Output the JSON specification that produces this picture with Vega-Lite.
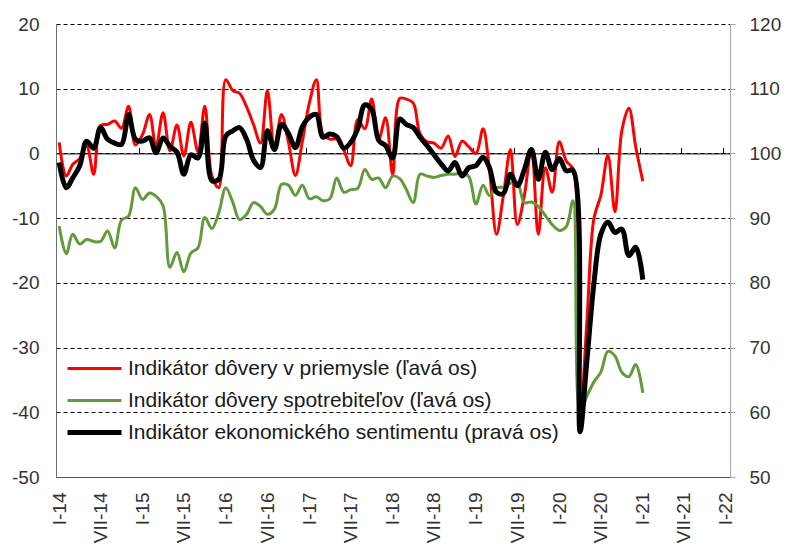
{
  "$schema": "https://vega.github.io/schema/vega-lite/v6.json",
  "width": 674,
  "height": 453,
  "autosize": {"type": "none"},
  "padding": {"left": 56, "top": 24, "right": 56, "bottom": 69},
  "background": "white",
  "config": {"view": {"stroke": null}, "font": "Liberation Sans", "axis": {"grid": false}},
  "data": {"values": [
    {"date": "2014-01-15", "ind": 1.7, "spot": -11.2, "esi": 98.6},
    {"date": "2014-02-15", "ind": -3.5, "spot": -15.5, "esi": 94.7},
    {"date": "2014-03-15", "ind": -1.7, "spot": -12.5, "esi": 96.2},
    {"date": "2014-04-15", "ind": -0.8, "spot": -14.0, "esi": 98.1},
    {"date": "2014-05-15", "ind": 1.2, "spot": -13.3, "esi": 101.9},
    {"date": "2014-06-15", "ind": -3.2, "spot": -13.6, "esi": 100.8},
    {"date": "2014-07-15", "ind": 4.3, "spot": -13.6, "esi": 104.0},
    {"date": "2014-08-15", "ind": 4.5, "spot": -12.0, "esi": 102.2},
    {"date": "2014-09-15", "ind": 5.0, "spot": -14.6, "esi": 101.6},
    {"date": "2014-10-15", "ind": 3.9, "spot": -10.3, "esi": 101.4},
    {"date": "2014-11-15", "ind": 7.3, "spot": -9.7, "esi": 106.0},
    {"date": "2014-12-15", "ind": 1.3, "spot": -5.3, "esi": 102.2},
    {"date": "2015-01-15", "ind": 2.9, "spot": -7.1, "esi": 101.9},
    {"date": "2015-02-15", "ind": 6.0, "spot": -6.1, "esi": 102.4},
    {"date": "2015-03-15", "ind": 1.0, "spot": -6.6, "esi": 100.1},
    {"date": "2015-04-15", "ind": 6.3, "spot": -8.1, "esi": 102.4},
    {"date": "2015-05-15", "ind": 0.4, "spot": -17.6, "esi": 101.1},
    {"date": "2015-06-15", "ind": 4.4, "spot": -15.3, "esi": 100.2},
    {"date": "2015-07-15", "ind": -0.4, "spot": -18.3, "esi": 96.8},
    {"date": "2015-08-15", "ind": 4.8, "spot": -15.4, "esi": 99.8},
    {"date": "2015-09-15", "ind": 0.3, "spot": -14.6, "esi": 99.3},
    {"date": "2015-10-15", "ind": 7.3, "spot": -9.9, "esi": 104.7},
    {"date": "2015-11-15", "ind": -3.5, "spot": -11.6, "esi": 95.8},
    {"date": "2015-12-15", "ind": -5.3, "spot": -9.2, "esi": 96.0},
    {"date": "2016-01-15", "ind": 11.4, "spot": -5.3, "esi": 102.7},
    {"date": "2016-02-15", "ind": 9.7, "spot": -7.6, "esi": 103.5},
    {"date": "2016-03-15", "ind": 9.3, "spot": -10.2, "esi": 104.0},
    {"date": "2016-04-15", "ind": 7.2, "spot": -9.4, "esi": 102.2},
    {"date": "2016-05-15", "ind": 4.5, "spot": -7.6, "esi": 99.0},
    {"date": "2016-06-15", "ind": 1.6, "spot": -8.2, "esi": 97.8},
    {"date": "2016-07-15", "ind": 9.7, "spot": -9.4, "esi": 103.5},
    {"date": "2016-08-15", "ind": 0.9, "spot": -8.6, "esi": 100.6},
    {"date": "2016-09-15", "ind": 6.0, "spot": -4.8, "esi": 104.5},
    {"date": "2016-10-15", "ind": 1.8, "spot": -4.9, "esi": 103.1},
    {"date": "2016-11-15", "ind": -3.4, "spot": -6.5, "esi": 100.9},
    {"date": "2016-12-15", "ind": 1.8, "spot": -4.9, "esi": 104.1},
    {"date": "2017-01-15", "ind": 7.8, "spot": -7.0, "esi": 105.6},
    {"date": "2017-02-15", "ind": 11.4, "spot": -6.7, "esi": 106.0},
    {"date": "2017-03-15", "ind": 3.0, "spot": -7.3, "esi": 102.5},
    {"date": "2017-04-15", "ind": 2.2, "spot": -7.0, "esi": 103.0},
    {"date": "2017-05-15", "ind": 2.2, "spot": -3.8, "esi": 102.6},
    {"date": "2017-06-15", "ind": 0.5, "spot": -6.0, "esi": 100.8},
    {"date": "2017-07-15", "ind": -1.9, "spot": -5.6, "esi": 101.7},
    {"date": "2017-08-15", "ind": 5.2, "spot": -5.4, "esi": 103.8},
    {"date": "2017-09-15", "ind": 3.8, "spot": -2.5, "esi": 107.5},
    {"date": "2017-10-15", "ind": 8.4, "spot": -4.0, "esi": 106.8},
    {"date": "2017-11-15", "ind": 2.2, "spot": -3.8, "esi": 102.0},
    {"date": "2017-12-15", "ind": 5.5, "spot": -5.3, "esi": 101.2},
    {"date": "2018-01-15", "ind": -3.3, "spot": -3.5, "esi": 99.3},
    {"date": "2018-02-15", "ind": 8.5, "spot": -3.9, "esi": 105.3},
    {"date": "2018-03-15", "ind": 8.4, "spot": -5.5, "esi": 104.5},
    {"date": "2018-04-15", "ind": 7.8, "spot": -7.6, "esi": 104.0},
    {"date": "2018-05-15", "ind": 3.0, "spot": -3.2, "esi": 102.5},
    {"date": "2018-06-15", "ind": 1.8, "spot": -3.5, "esi": 101.2},
    {"date": "2018-07-15", "ind": 1.6, "spot": -3.7, "esi": 99.8},
    {"date": "2018-08-15", "ind": 0.8, "spot": -3.4, "esi": 98.4},
    {"date": "2018-09-15", "ind": 2.7, "spot": -3.2, "esi": 97.3},
    {"date": "2018-10-15", "ind": -0.5, "spot": -3.2, "esi": 98.6},
    {"date": "2018-11-15", "ind": 1.9, "spot": -3.0, "esi": 96.5},
    {"date": "2018-12-15", "ind": 1.0, "spot": -3.6, "esi": 97.8},
    {"date": "2019-01-15", "ind": 0.0, "spot": -7.8, "esi": 98.1},
    {"date": "2019-02-15", "ind": 3.8, "spot": -4.9, "esi": 99.4},
    {"date": "2019-03-15", "ind": -2.5, "spot": -6.5, "esi": 97.8},
    {"date": "2019-04-15", "ind": -12.5, "spot": -5.3, "esi": 94.0},
    {"date": "2019-05-15", "ind": -6.5, "spot": -5.2, "esi": 93.8},
    {"date": "2019-06-15", "ind": 0.6, "spot": -4.6, "esi": 96.8},
    {"date": "2019-07-15", "ind": -11.0, "spot": -4.5, "esi": 95.0},
    {"date": "2019-08-15", "ind": -6.5, "spot": -7.6, "esi": 97.5},
    {"date": "2019-09-15", "ind": 0.8, "spot": -7.5, "esi": 100.6},
    {"date": "2019-10-15", "ind": -12.5, "spot": -8.2, "esi": 96.0},
    {"date": "2019-11-15", "ind": -2.2, "spot": -9.6, "esi": 100.2},
    {"date": "2019-12-15", "ind": -6.0, "spot": -11.0, "esi": 97.5},
    {"date": "2020-01-15", "ind": 1.8, "spot": -11.9, "esi": 99.2},
    {"date": "2020-02-15", "ind": -1.2, "spot": -11.3, "esi": 97.3},
    {"date": "2020-03-15", "ind": -2.4, "spot": -7.3, "esi": 97.4},
    {"date": "2020-04-15", "ind": -41.0, "spot": -40.0, "esi": 57.0},
    {"date": "2020-05-15", "ind": -26.0, "spot": -37.5, "esi": 68.0},
    {"date": "2020-06-15", "ind": -10.0, "spot": -35.3, "esi": 80.0},
    {"date": "2020-07-15", "ind": -6.5, "spot": -33.8, "esi": 87.5},
    {"date": "2020-08-15", "ind": -0.3, "spot": -30.6, "esi": 89.4},
    {"date": "2020-09-15", "ind": -9.0, "spot": -31.3, "esi": 87.8},
    {"date": "2020-10-15", "ind": 3.5, "spot": -33.8, "esi": 88.3},
    {"date": "2020-11-15", "ind": 7.0, "spot": -34.5, "esi": 84.2},
    {"date": "2020-12-15", "ind": 1.0, "spot": -32.6, "esi": 85.5},
    {"date": "2021-01-15", "ind": -4.3, "spot": -37.0, "esi": 80.5}
  ]},
  "transform": [{"fold": ["ind", "spot", "esi"], "as": ["key", "value"]}],
  "encoding": {
    "color": {
      "field": "key", "type": "nominal",
      "scale": {"domain": ["ind", "spot", "esi"], "range": ["#FF0000", "#64993C", "#000000"]},
      "legend": {
        "orient": "none", "legendX": 28, "legendY": 334, "title": null, "direction": "vertical",
        "symbolType": "M-2.7,0H2.7", "symbolSize": 400, "labelFontSize": 21, "labelOffset": 23,
        "labelLimit": 600, "labelColor": "#1a1a1a", "rowPadding": 10, "padding": 0,
        "labelExpr": "datum.label == 'ind' ? 'Indikátor dôvery v priemysle (ľavá os)' : datum.label == 'spot' ? 'Indikátor dôvery spotrebiteľov (ľavá os)' : 'Indikátor ekonomického sentimentu (pravá os)'",
        "encode": {"symbols": {"update": {"strokeWidth": {"signal": "datum.value == 'esi' ? 5 : 3"}}}}
      }
    }
  },
  "layer": [
    {
      "transform": [{"filter": "datum.key != 'esi'"}],
      "mark": {"type": "line", "interpolate": "catmull-rom", "strokeWidth": 3},
      "encoding": {
        "x": {
          "field": "date", "type": "temporal",
          "scale": {"type": "utc", "domain": [{"year": 2014, "month": 1, "date": 1, "utc": true}, {"year": 2022, "month": 2, "date": 1, "utc": true}]},
          "axis": {
            "orient": "bottom", "title": null, "grid": false, "ticks": false,
            "values": [
              {"year": 2014, "month": 1, "date": 1, "utc": true}, {"year": 2014, "month": 7, "date": 1, "utc": true},
              {"year": 2015, "month": 1, "date": 1, "utc": true}, {"year": 2015, "month": 7, "date": 1, "utc": true},
              {"year": 2016, "month": 1, "date": 1, "utc": true}, {"year": 2016, "month": 7, "date": 1, "utc": true},
              {"year": 2017, "month": 1, "date": 1, "utc": true}, {"year": 2017, "month": 7, "date": 1, "utc": true},
              {"year": 2018, "month": 1, "date": 1, "utc": true}, {"year": 2018, "month": 7, "date": 1, "utc": true},
              {"year": 2019, "month": 1, "date": 1, "utc": true}, {"year": 2019, "month": 7, "date": 1, "utc": true},
              {"year": 2020, "month": 1, "date": 1, "utc": true}, {"year": 2020, "month": 7, "date": 1, "utc": true},
              {"year": 2021, "month": 1, "date": 1, "utc": true}, {"year": 2021, "month": 7, "date": 1, "utc": true},
              {"year": 2022, "month": 1, "date": 1, "utc": true}
            ],
            "labelExpr": "(utcmonth(datum.value) == 0 ? 'I' : 'VII') + '-' + utcFormat(datum.value, '%y')",
            "labelAngle": -90, "labelAlign": "right", "labelBaseline": "middle",
            "labelFontSize": 19, "labelPadding": 15, "labelOffset": 3, "labelColor": "#333333",
            "labelOverlap": false, "labelBound": false, "labelFlush": false,
            "domainColor": "#555555", "domainWidth": 1
          }
        },
        "y": {
          "field": "value", "type": "quantitative",
          "scale": {"domain": [-50, 20], "nice": false, "zero": false},
          "axis": {
            "orient": "left", "title": null, "values": [-50, -40, -30, -20, -10, 0, 10, 20],
            "labelExpr": "toString(datum.value)",
            "grid": true, "gridColor": "#000000", "gridDash": [4, 3], "gridWidth": 1,
            "ticks": false, "labelPadding": 17, "labelFontSize": 19, "labelColor": "#333333",
            "domainColor": "#6e6e6e", "domainWidth": 1
          }
        }
      }
    },
    {
      "transform": [{"filter": "datum.key == 'esi'"}],
      "mark": {"type": "line", "interpolate": "catmull-rom", "strokeWidth": 5},
      "encoding": {
        "x": {
          "field": "date", "type": "temporal",
          "scale": {"type": "utc", "domain": [{"year": 2014, "month": 1, "date": 1, "utc": true}, {"year": 2022, "month": 2, "date": 1, "utc": true}]},
          "axis": {
            "orient": "top", "offset": -129.4, "title": null, "grid": false, "labels": false,
            "values": [
              {"year": 2014, "month": 1, "date": 1, "utc": true}, {"year": 2014, "month": 7, "date": 1, "utc": true},
              {"year": 2015, "month": 1, "date": 1, "utc": true}, {"year": 2015, "month": 7, "date": 1, "utc": true},
              {"year": 2016, "month": 1, "date": 1, "utc": true}, {"year": 2016, "month": 7, "date": 1, "utc": true},
              {"year": 2017, "month": 1, "date": 1, "utc": true}, {"year": 2017, "month": 7, "date": 1, "utc": true},
              {"year": 2018, "month": 1, "date": 1, "utc": true}, {"year": 2018, "month": 7, "date": 1, "utc": true},
              {"year": 2019, "month": 1, "date": 1, "utc": true}, {"year": 2019, "month": 7, "date": 1, "utc": true},
              {"year": 2020, "month": 1, "date": 1, "utc": true}, {"year": 2020, "month": 7, "date": 1, "utc": true},
              {"year": 2021, "month": 1, "date": 1, "utc": true}, {"year": 2021, "month": 7, "date": 1, "utc": true},
              {"year": 2022, "month": 1, "date": 1, "utc": true}
            ],
            "tickSize": 6, "tickColor": "#000000", "tickWidth": 1,
            "domainColor": "#000000", "domainWidth": 1
          }
        },
        "y": {
          "field": "value", "type": "quantitative",
          "scale": {"domain": [50, 120], "nice": false, "zero": false},
          "axis": {
            "orient": "right", "title": null, "values": [50, 60, 70, 80, 90, 100, 110, 120],
            "grid": false, "tickSize": 5, "tickColor": "#a6a6a6", "labelPadding": 14,
            "labelFontSize": 19, "labelColor": "#333333", "domainColor": "#a6a6a6", "domainWidth": 1
          }
        }
      }
    }
  ],
  "resolve": {"scale": {"y": "independent"}, "axis": {"x": "independent"}}
}
